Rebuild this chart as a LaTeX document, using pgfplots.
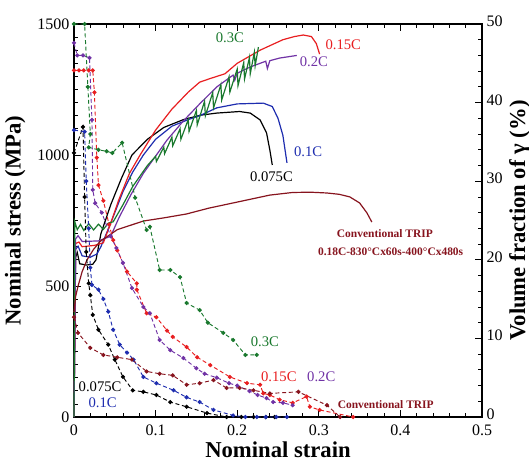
\documentclass[border=0pt]{standalone}
\usepackage{fontspec}
\setmainfont{Liberation Serif}
\usepackage{pgfplots}
\pgfplotsset{compat=1.18}

\definecolor{c03}{RGB}{25,120,45}
\definecolor{c015}{RGB}{232,30,32}
\definecolor{c02}{RGB}{112,50,165}
\definecolor{c01}{RGB}{30,45,175}
\definecolor{ctrip}{RGB}{135,20,30}

\pgfplotsset{
  base/.style={
    width=306pt, height=294.75pt, scale only axis,
    xmin=0, xmax=0.5, ymin=0,
    tick style={black, line width=0.6pt},
    major tick length=5pt, minor tick length=3pt,
    tick align=inside,
    tick label style={font=\fontsize{12}{12}\selectfont},
    label style={font=\fontsize{17}{17}\selectfont\bfseries},
    /pgf/number format/assume math mode=true,
    /pgf/number format/1000 sep={},
  },
  ss/.style={line width=0.9pt},
  gm/.style={densely dashed, line width=0.7pt, mark=*, mark size=1.2pt,
             mark options={solid}},
}

\begin{document}
\begin{tikzpicture}
\begin{axis}[base, name=main,
    ymax=1500,
    axis line style={black, line width=0.9pt},
    xtick={0,0.1,0.2,0.3,0.4,0.5},
    xticklabels={0,0.1,0.2,0.3,0.4,0.5},
    xticklabel style={yshift=-2pt},
    minor x tick num=4,
    ytick={0,500,1000,1500},
    minor y tick num=9,
    ytick pos=left,
    xlabel={Nominal strain},
    ylabel={Nominal stress (MPa)},
    xlabel style={yshift=2pt},
    ylabel style={yshift=2pt},
    clip=false,
]
% 0.075C
\addplot[ss, black] coordinates {(0,0) (0.002,610) (0.004,628) (0.007,585) (0.015,580) (0.023,583) (0.027,600)
 (0.033,700) (0.045,810) (0.058,910) (0.071,1000) (0.09,1060) (0.11,1105) (0.134,1135) (0.155,1152)
 (0.175,1160) (0.203,1166) (0.216,1160) (0.228,1134) (0.236,1084) (0.24,1019) (0.243,962)};
% 0.1C
\addplot[ss, c01] coordinates {(0,0) (0.002,640) (0.005,652) (0.01,615) (0.02,610) (0.028,622) (0.033,650)
 (0.045,740) (0.06,860) (0.072,935) (0.085,1000) (0.1,1060) (0.12,1110) (0.14,1135) (0.154,1150)
 (0.175,1180) (0.2,1195) (0.232,1198) (0.243,1185) (0.25,1140) (0.256,1075) (0.261,970)};
% 0.15C
\addplot[ss, c015] coordinates {(0,0) (0.002,662) (0.006,668) (0.01,650) (0.025,655) (0.036,665)
 (0.045,740) (0.055,830) (0.068,930) (0.081,1000) (0.1,1095) (0.12,1175) (0.14,1240) (0.154,1278)
 (0.167,1292) (0.185,1310) (0.2,1350) (0.228,1400) (0.256,1440) (0.27,1452)
 (0.281,1458) (0.291,1452) (0.297,1425) (0.299,1405) (0.301,1385)};
% 0.2C
\addplot[ss, c02] coordinates {(0,0) (0.002,680) (0.005,692) (0.01,670) (0.03,672) (0.045,690)
 (0.055,760) (0.07,850) (0.085,930) (0.101,1000) (0.114,1057) (0.134,1130) (0.154,1195) (0.175,1260)
 (0.195,1305) (0.197,1285) (0.2,1312) (0.216,1336) (0.235,1358) (0.237,1330) (0.24,1360)
 (0.252,1370) (0.273,1380)};
% 0.3C
\addplot[ss, c03] coordinates {(0,0) (0.001,745) (0.004,715) (0.008,735) (0.012,712) (0.018,738)
 (0.024,714) (0.03,736) (0.036,716) (0.042,740) (0.048,745) (0.06,810) (0.072,880) (0.09,960)
 (0.1,995) (0.101,975) (0.11,1030) (0.111,1005) (0.12,1068) (0.121,1035) (0.13,1100) (0.131,1060)
 (0.14,1135) (0.141,1090) (0.15,1170) (0.151,1115) (0.16,1205) (0.161,1150) (0.17,1238)
 (0.171,1180) (0.18,1268) (0.181,1210) (0.19,1298) (0.191,1240) (0.2,1328) (0.201,1265)
 (0.208,1352) (0.209,1290) (0.215,1372) (0.216,1310) (0.221,1392) (0.222,1340) (0.226,1412)};
% Conventional TRIP
\addplot[ss, ctrip] coordinates {(0,400) (0.002,460) (0.005,500) (0.01,555) (0.016,600) (0.024,640)
 (0.032,670) (0.053,715) (0.085,748) (0.11,760) (0.138,775) (0.165,797) (0.195,817) (0.24,847)
 (0.268,857) (0.29,858) (0.31,855) (0.325,850) (0.338,840) (0.35,817) (0.359,779) (0.365,744)};

\node[c03, font=\fontsize{11}{11}\selectfont] at (axis cs:0.191,1447) {0.3C};
\node[c015, font=\fontsize{11}{11}\selectfont] at (axis cs:0.33,1420) {0.15C};
\node[c02, font=\fontsize{11}{11}\selectfont] at (axis cs:0.294,1355) {0.2C};
\node[c01, font=\fontsize{11}{11}\selectfont] at (axis cs:0.287,1011) {0.1C};
\node[black, font=\fontsize{11}{11}\selectfont] at (axis cs:0.242,916) {0.075C};
\node[ctrip, font=\fontsize{8.6}{8.6}\selectfont\bfseries] at (axis cs:0.381,702) {Conventional TRIP};
\node[ctrip, font=\fontsize{8.6}{8.6}\selectfont\bfseries] at (axis cs:0.388,630) {0.18C-830°Cx60s-400°Cx480s};
\node[c03, font=\fontsize{11}{11}\selectfont] at (axis cs:0.234,286) {0.3C};
\node[c015, font=\fontsize{11}{11}\selectfont] at (axis cs:0.251,153) {0.15C};
\node[c02, font=\fontsize{11}{11}\selectfont] at (axis cs:0.303,153) {0.2C};
\node[ctrip, font=\fontsize{8.6}{8.6}\selectfont\bfseries] at (axis cs:0.382,46) {Conventional TRIP};
\node[black, font=\fontsize{11}{11}\selectfont] at (axis cs:0.032,115) {0.075C};
\node[c01, font=\fontsize{11}{11}\selectfont] at (axis cs:0.035,53) {0.1C};
\end{axis}

\begin{axis}[base, at={(main.south west)}, anchor=south west,
    ymax=50,
    axis x line=none,
    axis y line*=right,
    axis line style={black, line width=0.9pt, -},
    ytick={0,10,20,30,40,50},
    yticklabel style={yshift=2pt},
    minor y tick num=4,
    ylabel={Volume fraction of γ (\%)},
    ylabel style={yshift=2pt},
    clip=false,
]
% 0.075C
\addplot[gm, black] coordinates {(0,33.6) (0.011,36.9) (0.013,28) (0.015,21) (0.018,17) (0.02,15.5)
 (0.023,13) (0.03,11.1) (0.042,9.2) (0.05,7.3) (0.06,5.1) (0.072,3.4) (0.085,3.2) (0.101,2.8)
 (0.118,1.9) (0.138,1.3) (0.163,0.5) (0.187,0) (0.205,0) (0.22,0) (0.235,0) (0.246,0)};
% 0.1C
\addplot[gm, c01] coordinates {(0,36.5) (0.013,36.3) (0.015,30) (0.018,24) (0.02,19) (0.022,16.8)
 (0.03,16.2) (0.036,15) (0.042,13.4) (0.048,11.1) (0.056,9.2) (0.065,8.2) (0.073,7.3) (0.085,5.1)
 (0.101,4.3) (0.122,3.4) (0.138,2.5) (0.154,1.9) (0.171,0.9) (0.195,0.2) (0.21,0) (0.224,0)
 (0.235,0) (0.248,0) (0.261,0)};
% 0.15C
\addplot[gm, c015] coordinates {(0,44.1) (0.006,44.1) (0.012,44.1) (0.018,44.1) (0.023,44.1)
 (0.025,41.3) (0.028,33) (0.03,29.5) (0.036,27.5) (0.043,24.5) (0.048,22.5) (0.053,21.2) (0.065,18.5)
 (0.077,17) (0.077,16.2) (0.089,13.2) (0.101,12.7) (0.114,11) (0.121,10.2) (0.138,8.9) (0.151,7.6)
 (0.167,6.6) (0.191,5.1) (0.212,4.3) (0.228,4.1) (0.232,3.0) (0.24,2.8) (0.252,2.2) (0.268,1.8)
 (0.285,2.6) (0.289,1.3) (0.301,0.9) (0.342,0)};
% 0.2C
\addplot[gm, c02] coordinates {(0,47.6) (0.004,46) (0.011,46) (0.019,45.7) (0.022,37.8) (0.023,28.9)
 (0.026,27.2) (0.034,26) (0.045,23) (0.052,21.5) (0.06,19.6) (0.071,16.4) (0.085,14) (0.093,13.2)
 (0.105,9.8) (0.118,8.5) (0.134,7.5) (0.15,6.2) (0.16,5.5) (0.175,5.0) (0.19,4.3) (0.2,4)
 (0.215,3.3) (0.225,2.8) (0.236,2.4) (0.244,1.9) (0.256,1.8) (0.268,1.5)};
% 0.3C
\addplot[gm, c03] coordinates {(0,50) (0.013,50) (0.017,42) (0.02,36) (0.018,34.3) (0.03,34)
 (0.04,33.8) (0.047,33.6) (0.059,34.9) (0.075,27.9) (0.089,23.8) (0.093,24.2) (0.105,18.7)
 (0.118,18.7) (0.13,17.8) (0.138,14.5) (0.154,13.6) (0.164,12) (0.183,10.7) (0.195,9.8)
 (0.21,7.9) (0.224,7.9)};
% Conventional TRIP
\addplot[gm, ctrip] coordinates {(0,12.7) (0.005,10.7) (0.02,8.8) (0.036,7.9) (0.053,7.6) (0.071,7.3)
 (0.089,5.8) (0.105,5.5) (0.121,5.3) (0.138,4.1) (0.154,4.3) (0.171,4.7) (0.187,3.7) (0.203,3.7)
 (0.22,3.4) (0.24,3.0) (0.275,3.2) (0.31,1.5) (0.326,0)};
\end{axis}

\pgfresetboundingbox
\path (main.south west) ++(-55.5pt,-33.75pt) rectangle ++(396.75pt,346.5pt);
\end{tikzpicture}
\end{document}
